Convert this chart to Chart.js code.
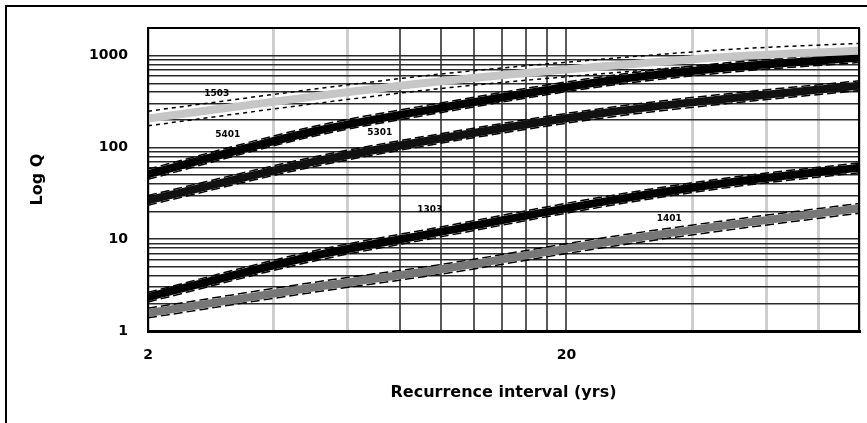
<!DOCTYPE html>
<html>
<head>
<meta charset="utf-8">
<script src="https://cdn.jsdelivr.net/npm/chart.js@4/dist/chart.umd.min.js"></script>
<style>
  html, body { margin: 0; padding: 0; background: #fff; overflow: hidden; }
  #wrap { position: relative; width: 867px; height: 423px; overflow: hidden; }
  #frame { position: absolute; left: 5px; top: 5px; width: 900px; height: 450px;
           border-left: 2px solid #000; border-top: 2px solid #000; pointer-events: none; }
</style>
</head>
<body>
<div id="wrap">
  <canvas id="c" width="867" height="423"></canvas>
  <div id="frame"></div>
</div>
<script>
// Recurrence intervals (years)
const recurrence = [2, 5, 10, 25, 50, 100];

// Peak discharge estimates per site (centre curve) with upper / lower bands
const siteA      = [207, 360, 525, 770, 980, 1133];
const siteAUpper = [248, 432, 630, 924, 1176, 1360];
const siteALower = [172, 300, 438, 642, 817, 944];

const siteB      = [51, 150, 270, 530, 750, 950];
const siteBUpper = [58, 170, 305, 599, 848, 1074];
const siteBLower = [45, 133, 239, 469, 664, 841];

const siteC      = [26.5, 70, 125, 240, 345, 470];
const siteCUpper = [30, 79, 141, 271, 390, 531];
const siteCLower = [23.5, 62, 111, 212, 305, 416];

const siteD      = [2.34, 6.6, 12, 26, 42, 60];
const siteDUpper = [2.64, 7.5, 13.6, 29.4, 47.5, 67.8];
const siteDLower = [2.07, 5.8, 10.6, 23, 37.2, 53];

const siteE      = [1.57, 3.0, 4.7, 9.3, 14.5, 21.7];
const siteEUpper = [1.77, 3.4, 5.3, 10.5, 16.4, 24.5];
const siteELower = [1.39, 2.65, 4.16, 8.2, 12.8, 19.2];

// Curve labels and where they sit (data coordinates)
const curveLabels = ['1503', '5401', '5301', '1303', '1401'];
const curveLabelX = [2.92, 3.10, 7.16, 9.42, 35.2];
const curveLabelY = [386, 138, 146, 21.2, 16.9];

// Axis ticks / grid
const xGridValues = [2, 4, 6, 8, 10, 12, 14, 16, 18, 20, 40, 60, 80, 100];
const xTickLabels = [2, 20];
const xDarkGrid   = [8, 10, 12, 14, 16, 18, 20];
const yGridValues = [1,2,3,4,5,6,7,8,9,10,20,30,40,50,60,70,80,90,100,200,300,400,500,600,700,800,900,1000,2000];
const yTickLabels = [1, 10, 100, 1000];

const pts = arr => recurrence.map((x, i) => ({ x: x, y: arr[i] }));

function curve(arr, color, width) {
  return { data: pts(arr), borderColor: color, borderWidth: width, pointRadius: 0,
           cubicInterpolationMode: 'monotone', fill: false };
}
function band(arr, dash, width) {
  return { data: pts(arr), borderColor: '#000', borderWidth: width, borderDash: dash,
           pointRadius: 0, cubicInterpolationMode: 'monotone', fill: false };
}

const datasets = [
  curve(siteA, '#c6c6c6', 8), band(siteAUpper, [4, 4], 1.5), band(siteALower, [4, 4], 1.5),
  curve(siteB, '#000', 8),    band(siteBUpper, [9, 4], 1.5), band(siteBLower, [9, 4], 1.5),
  curve(siteC, '#111', 8),    band(siteCUpper, [9, 4], 1.5), band(siteCLower, [9, 4], 1.5),
  curve(siteD, '#000', 8),    band(siteDUpper, [9, 4], 1.5), band(siteDLower, [9, 4], 1.5),
  curve(siteE, '#777', 8),    band(siteEUpper, [9, 4], 1.5), band(siteELower, [9, 4], 1.5)
];

const annotate = {
  id: 'annotate',
  afterDatasetsDraw(chart) {
    const { ctx, scales: { x, y } } = chart;
    ctx.save();
    ctx.font = 'bold 9px "DejaVu Sans"';
    ctx.fillStyle = '#000';
    ctx.textAlign = 'center';
    ctx.textBaseline = 'middle';
    curveLabels.forEach((t, i) => {
      ctx.fillText(t, x.getPixelForValue(curveLabelX[i]), y.getPixelForValue(curveLabelY[i]));
    });
    ctx.restore();
  },
  afterDraw(chart) {
    const { ctx, chartArea: a } = chart;
    ctx.save();
    ctx.strokeStyle = '#000';
    ctx.lineWidth = 2;
    ctx.strokeRect(a.left, a.top, a.right - a.left, a.bottom - a.top);
    ctx.restore();
  }
};

function noEdgePadding(s) {
  s.paddingLeft = 0; s.paddingRight = 0; s.paddingTop = 0; s.paddingBottom = 0;
}

new Chart(document.getElementById('c'), {
  type: 'line',
  data: { datasets },
  plugins: [annotate],
  options: {
    responsive: false,
    animation: false,
    devicePixelRatio: 1,
    layout: { padding: { left: 8, top: 28, right: 8, bottom: 8 } },
    plugins: { legend: { display: false }, tooltip: { enabled: false } },
    scales: {
      x: {
        type: 'logarithmic',
        min: 2, max: 100,
        afterBuildTicks: s => { s.ticks = xGridValues.map(v => ({ value: v })); },
        afterFit: s => { s.height = 84; noEdgePadding(s); },
        grid: {
          drawTicks: false,
          color: c => (c.tick && xDarkGrid.includes(c.tick.value)) ? '#5a5a5a' : '#cfcfcf',
          lineWidth: c => (c.tick && xDarkGrid.includes(c.tick.value)) ? 2 : 3
        },
        border: { display: true, color: '#000', width: 3 },
        ticks: {
          autoSkip: false, maxRotation: 0, padding: 16, color: '#000',
          font: { family: 'DejaVu Sans', size: 14, weight: 'bold' },
          callback: v => xTickLabels.includes(v) ? String(v) : ''
        },
        title: {
          display: true, text: 'Recurrence interval (yrs)', color: '#000',
          font: { family: 'DejaVu Sans', size: 16, weight: 'bold' },
          padding: { top: 0, bottom: 13 }
        }
      },
      y: {
        type: 'logarithmic',
        min: 1, max: 2000,
        afterBuildTicks: s => { s.ticks = yGridValues.map(v => ({ value: v })); },
        afterFit: s => { s.width = 140; noEdgePadding(s); },
        grid: { drawTicks: false, color: '#2a2a2a', lineWidth: 1.5 },
        border: { display: true, color: '#000', width: 2 },
        ticks: {
          autoSkip: false, padding: 20, color: '#000',
          font: { family: 'DejaVu Sans', size: 14, weight: 'bold' },
          callback: v => yTickLabels.includes(v) ? String(v) : ''
        },
        title: {
          display: true, text: 'Log Q', color: '#000',
          font: { family: 'DejaVu Sans', size: 16, weight: 'bold' },
          padding: { top: 20, bottom: 0 }
        }
      }
    }
  }
});
</script>
</body>
</html>
